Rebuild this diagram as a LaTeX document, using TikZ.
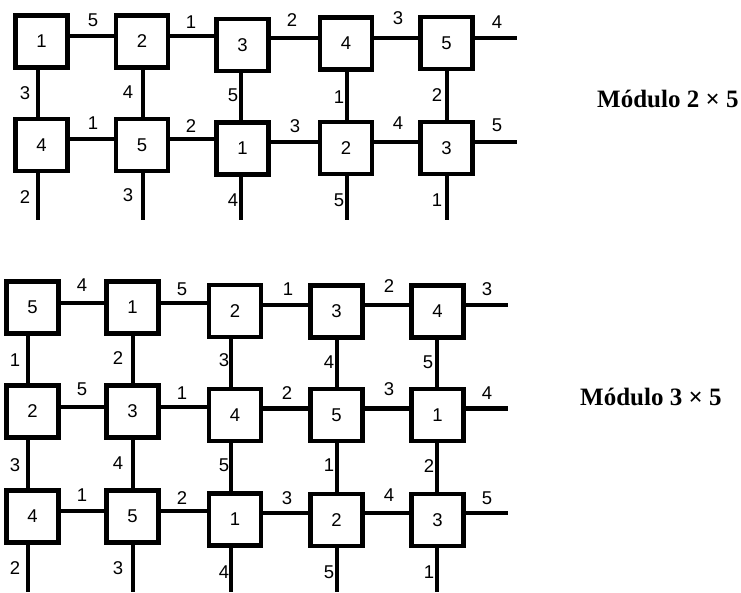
\documentclass[tikz,border=0pt]{standalone}
\usepackage{fontspec}
\setmainfont{Liberation Sans}
\newfontfamily\titlefont{Liberation Serif}
\tikzset{
 cell/.style={draw, line width=4.5pt, minimum size=52pt, inner sep=0pt, font=\fontsize{18.5}{18.5}\selectfont},
 wire/.style={line width=4.5pt},
 lab/.style={inner sep=0pt, font=\fontsize{18.5}{18.5}\selectfont},
 title/.style={font=\titlefont\bfseries\fontsize{25}{25}\selectfont, inner sep=0pt}
}
\begin{document}
\begin{tikzpicture}[x=1pt,y=-1pt]
\useasboundingbox (0,0) rectangle (741,592);
% ---------------- top module 2x5 ----------------
\node[cell] (t11) at (41.5,41.5) {1};
\node[cell] (t12) at (142,41.5) {2};
\node[cell] (t13) at (242.5,45) {3};
\node[cell] (t14) at (346,43.5) {4};
\node[cell] (t15) at (446.5,43) {5};
\node[cell] (t21) at (41.5,145) {4};
\node[cell] (t22) at (142,145) {5};
\node[cell] (t23) at (242.5,148.5) {1};
\node[cell] (t24) at (346,148) {2};
\node[cell] (t25) at (446.5,148) {3};
\coordinate (tya) at (0,36);
\coordinate (tyb) at (0,38);
\coordinate (tyc) at (0,139);
\coordinate (tyd) at (0,142);
\coordinate (tx1) at (38,0);
\coordinate (tx2) at (143,0);
\coordinate (tx3) at (241,0);
\coordinate (tx4) at (347,0);
\coordinate (tx5) at (447,0);
\coordinate (tbot) at (0,220);
\coordinate (tendA) at (517,38);
\coordinate (tendB) at (517,142);
\draw[wire] (t11.east|-tya) -- (t12.west|-tya);
\draw[wire] (t12.east|-tya) -- (t13.west|-tya);
\draw[wire] (t13.east|-tyb) -- (t14.west|-tyb);
\draw[wire] (t14.east|-tyb) -- (t15.west|-tyb);
\draw[wire] (t15.east|-tyb) -- (tendA);
\draw[wire] (t21.east|-tyc) -- (t22.west|-tyc);
\draw[wire] (t22.east|-tyc) -- (t23.west|-tyc);
\draw[wire] (t23.east|-tyd) -- (t24.west|-tyd);
\draw[wire] (t24.east|-tyd) -- (t25.west|-tyd);
\draw[wire] (t25.east|-tyd) -- (tendB);
\draw[wire] (tx1|-t11.south) -- (tx1|-t21.north);
\draw[wire] (tx2|-t12.south) -- (tx2|-t22.north);
\draw[wire] (tx3|-t13.south) -- (tx3|-t23.north);
\draw[wire] (tx4|-t14.south) -- (tx4|-t24.north);
\draw[wire] (tx5|-t15.south) -- (tx5|-t25.north);
\draw[wire] (tx1|-t21.south) -- (tx1|-tbot);
\draw[wire] (tx2|-t22.south) -- (tx2|-tbot);
\draw[wire] (tx3|-t23.south) -- (tx3|-tbot);
\draw[wire] (tx4|-t24.south) -- (tx4|-tbot);
\draw[wire] (tx5|-t25.south) -- (tx5|-tbot);
% labels
\node[lab] (ta1) at (93,20) {5};
\node[lab] (ta2) at (191,22) {1};
\node[lab] (ta3) at (292,20) {2};
\node[lab] (ta4) at (398,18) {3};
\node[lab] (ta5) at (497,22) {4};
\node[lab] (tv1) at (25,93) {3};
\node[lab] (tv2) at (128,92) {4};
\node[lab] (tv3) at (233,95) {5};
\node[lab] (tv4) at (339,97) {1};
\node[lab] (tv5) at (437,95) {2};
\node[lab] (tb1) at (93,123) {1};
\node[lab] (tb2) at (191,126) {2};
\node[lab] (tb3) at (295,126) {3};
\node[lab] (tb4) at (398,123) {4};
\node[lab] (tb5) at (497,125) {5};
\node[lab] (tw1) at (25,197) {2};
\node[lab] (tw2) at (128,195) {3};
\node[lab] (tw3) at (233,200) {4};
\node[lab] (tw4) at (339,200) {5};
\node[lab] (tw5) at (437,200) {1};
\node[title, anchor=base west] (ttitle) at (597,107) {Módulo 2 × 5};
% ---------------- bottom module 3x5 ----------------
\node[cell] (b11) at (32.5,307.5) {5};
\node[cell] (b12) at (132.5,307.5) {1};
\node[cell] (b13) at (235,311) {2};
\node[cell] (b14) at (336.5,311.5) {3};
\node[cell] (b15) at (437.5,311.5) {4};
\node[cell] (b21) at (32.5,411.5) {2};
\node[cell] (b22) at (132.5,411.5) {3};
\node[cell] (b23) at (235,415) {4};
\node[cell] (b24) at (336.5,415) {5};
\node[cell] (b25) at (437.5,415) {1};
\node[cell] (b31) at (32.5,516.5) {4};
\node[cell] (b32) at (132.5,516.5) {5};
\node[cell] (b33) at (235,519.5) {1};
\node[cell] (b34) at (336.5,520) {2};
\node[cell] (b35) at (437.5,520) {3};
\coordinate (bya) at (0,303);
\coordinate (byb) at (0,305);
\coordinate (byc) at (0,407);
\coordinate (byd) at (0,408.5);
\coordinate (bye) at (0,511);
\coordinate (byf) at (0,513);
\coordinate (bx1) at (28,0);
\coordinate (bx2) at (133,0);
\coordinate (bx3) at (231,0);
\coordinate (bx4) at (337,0);
\coordinate (bx5) at (437,0);
\coordinate (bbot) at (0,592);
\coordinate (bendA) at (508,305);
\coordinate (bendB) at (508,408.5);
\coordinate (bendC) at (508,513);
\draw[wire] (b11.east|-bya) -- (b12.west|-bya);
\draw[wire] (b12.east|-bya) -- (b13.west|-bya);
\draw[wire] (b13.east|-byb) -- (b14.west|-byb);
\draw[wire] (b14.east|-byb) -- (b15.west|-byb);
\draw[wire] (b15.east|-byb) -- (bendA);
\draw[wire] (b21.east|-byc) -- (b22.west|-byc);
\draw[wire] (b22.east|-byc) -- (b23.west|-byc);
\draw[wire] (b23.east|-byd) -- (b24.west|-byd);
\draw[wire] (b24.east|-byd) -- (b25.west|-byd);
\draw[wire] (b25.east|-byd) -- (bendB);
\draw[wire] (b31.east|-bye) -- (b32.west|-bye);
\draw[wire] (b32.east|-bye) -- (b33.west|-bye);
\draw[wire] (b33.east|-byf) -- (b34.west|-byf);
\draw[wire] (b34.east|-byf) -- (b35.west|-byf);
\draw[wire] (b35.east|-byf) -- (bendC);
\draw[wire] (bx1|-b11.south) -- (bx1|-b21.north);
\draw[wire] (bx2|-b12.south) -- (bx2|-b22.north);
\draw[wire] (bx3|-b13.south) -- (bx3|-b23.north);
\draw[wire] (bx4|-b14.south) -- (bx4|-b24.north);
\draw[wire] (bx5|-b15.south) -- (bx5|-b25.north);
\draw[wire] (bx1|-b21.south) -- (bx1|-b31.north);
\draw[wire] (bx2|-b22.south) -- (bx2|-b32.north);
\draw[wire] (bx3|-b23.south) -- (bx3|-b33.north);
\draw[wire] (bx4|-b24.south) -- (bx4|-b34.north);
\draw[wire] (bx5|-b25.south) -- (bx5|-b35.north);
\draw[wire] (bx1|-b31.south) -- (bx1|-bbot);
\draw[wire] (bx2|-b32.south) -- (bx2|-bbot);
\draw[wire] (bx3|-b33.south) -- (bx3|-bbot);
\draw[wire] (bx4|-b34.south) -- (bx4|-bbot);
\draw[wire] (bx5|-b35.south) -- (bx5|-bbot);
% labels
\node[lab] (ba1) at (82,285) {4};
\node[lab] (ba2) at (182,289) {5};
\node[lab] (ba3) at (288,289) {1};
\node[lab] (ba4) at (389,286) {2};
\node[lab] (ba5) at (487,289) {3};
\node[lab] (bv1) at (15,360) {1};
\node[lab] (bv2) at (118,358) {2};
\node[lab] (bv3) at (224,360) {3};
\node[lab] (bv4) at (329,362) {4};
\node[lab] (bv5) at (428,362) {5};
\node[lab] (bb1) at (82,389) {5};
\node[lab] (bb2) at (182,393) {1};
\node[lab] (bb3) at (287,393) {2};
\node[lab] (bb4) at (389,389) {3};
\node[lab] (bb5) at (487,393) {4};
\node[lab] (bu1) at (15,465) {3};
\node[lab] (bu2) at (118,463) {4};
\node[lab] (bu3) at (224,465) {5};
\node[lab] (bu4) at (329,465) {1};
\node[lab] (bu5) at (429,466) {2};
\node[lab] (bc1) at (82,495) {1};
\node[lab] (bc2) at (182,498) {2};
\node[lab] (bc3) at (287,498) {3};
\node[lab] (bc4) at (389,495) {4};
\node[lab] (bc5) at (487,498) {5};
\node[lab] (bw1) at (15,568) {2};
\node[lab] (bw2) at (118,568) {3};
\node[lab] (bw3) at (224,572) {4};
\node[lab] (bw4) at (329,572) {5};
\node[lab] (bw5) at (429,572) {1};
\node[title, anchor=base west] (btitle) at (580,405) {Módulo 3 × 5};
\end{tikzpicture}
\end{document}
